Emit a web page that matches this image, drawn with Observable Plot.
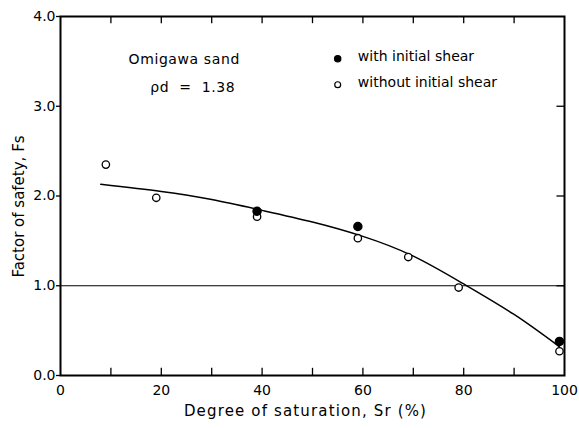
<!DOCTYPE html>
<html>
<head>
<meta charset="utf-8">
<script src="https://cdn.jsdelivr.net/npm/d3@7"></script>
<script src="https://cdn.jsdelivr.net/npm/@observablehq/plot@0.6"></script>
<style>
  html, body { margin: 0; padding: 0; background: #fff; }
  #chart svg { display: block; }
</style>
</head>
<body>
<div id="chart"></div>
<script>
// Degree of saturation Sr (%) and factor of safety Fs
const openSr = [9, 19, 39, 59, 69, 79, 99];
const openFs = [2.35, 1.98, 1.77, 1.53, 1.32, 0.98, 0.27];
const filledSr = [39, 59, 99];
const filledFs = [1.83, 1.66, 0.38];
// fitted curve
const curveSr = [8, 20, 30, 40, 50, 60, 70, 80, 90, 99];
const curveFs = [2.13, 2.05, 1.96, 1.84, 1.71, 1.55, 1.33, 1.02, 0.68, 0.32];
// tick labels
const xTickLabels = [0, 20, 40, 60, 80, 100];
const xTickMarks = [10, 20, 30, 40, 50, 60, 70, 80, 90];
const yTickLabels = [0, 1, 2, 3, 4];
const yInnerTicks = [1, 2, 3];
const safetyLevel = [1.0];
const legendItems = ["with initial shear", "without initial shear"];
const sampleLines = ["Omigawa sand", "ρd  =  1.38"];
const xLabel = "Degree of saturation, Sr (%)";
const yLabel = "Factor of safety, Fs";

const openPts = openSr.map((x, i) => ({x, y: openFs[i]}));
const filledPts = filledSr.map((x, i) => ({x, y: filledFs[i]}));
const curvePts = curveSr.map((x, i) => ({x, y: curveFs[i]}));

const font = "'DejaVu Sans', 'Liberation Sans', sans-serif";

const chart = Plot.plot({
  width: 579,
  height: 428,
  marginLeft: 60,
  marginRight: 15,
  marginTop: 16,
  marginBottom: 53,
  style: {fontFamily: font, fontSize: "14px", color: "#000", background: "#fff"},
  x: {domain: [0, 100]},
  y: {domain: [0, 4]},
  marks: [
    // inward ticks bottom, top and right
    Plot.ruleX(xTickMarks, {y1: 0, y2: 0.08, stroke: "#000", strokeWidth: 1.3}),
    Plot.ruleX(xTickMarks, {y1: 3.92, y2: 4, stroke: "#000", strokeWidth: 1.3}),
    Plot.ruleY(yInnerTicks, {x1: 98.5, x2: 100, stroke: "#000", strokeWidth: 1.3}),
    Plot.axisX({anchor: "bottom", ticks: xTickLabels, tickSize: 0, tickPadding: 10, tickFormat: d => String(d),
      label: null, fontSize: 14}),
    Plot.axisY({anchor: "left", ticks: yTickLabels, tickSize: 4, tickPadding: 1, tickFormat: d => d.toFixed(1),
      label: null, fontSize: 14, strokeWidth: 1.3}),
    Plot.text([xLabel], {frameAnchor: "bottom", textAnchor: "middle", dx: -7, dy: 40, text: d => d, fontSize: 15}),
    Plot.text([yLabel], {frameAnchor: "left", textAnchor: "middle", dx: -41, dy: 10.5, rotate: -90, text: d => d,
      fontSize: 15}),
    Plot.ruleY(safetyLevel, {stroke: "#000", strokeWidth: 1.2}),
    Plot.line(curvePts, {x: "x", y: "y", curve: "natural", stroke: "#000", strokeWidth: 1.5}),
    Plot.dot(openPts, {x: "x", y: "y", r: 3.7, stroke: "#000", strokeWidth: 1.3, fill: "#fff"}),
    Plot.dot(filledPts, {x: "x", y: "y", r: 4, fill: "#000", stroke: "#000"}),
    // annotation
    Plot.text(sampleLines, {x: [13.5, 17.8], y: [3.52, 3.21], text: d => d, textAnchor: "start", fontSize: 14}),
    // legend
    Plot.dot(legendItems, {x: [55, 55], y: [3.53, 3.24], r: [3.2, 2.8], fill: ["#000", "#fff"], stroke: "#000", strokeWidth: 1.2}),
    Plot.text(legendItems, {x: [59, 59], y: [3.55, 3.26], text: d => d, textAnchor: "start", fontSize: 14}),
    Plot.frame({stroke: "#000", strokeWidth: 2})
  ]
});
// letter spacing for the wide drafting lettering
const spacing = new Map([[xLabel, "1.15px"], [sampleLines[0], "0.6px"], [sampleLines[1], "0.6px"]]);
d3.select(chart).selectAll("text").each(function() {
  const s = spacing.get(this.textContent);
  if (s) this.style.letterSpacing = s;
});
document.getElementById("chart").appendChild(chart);
</script>
</body>
</html>
